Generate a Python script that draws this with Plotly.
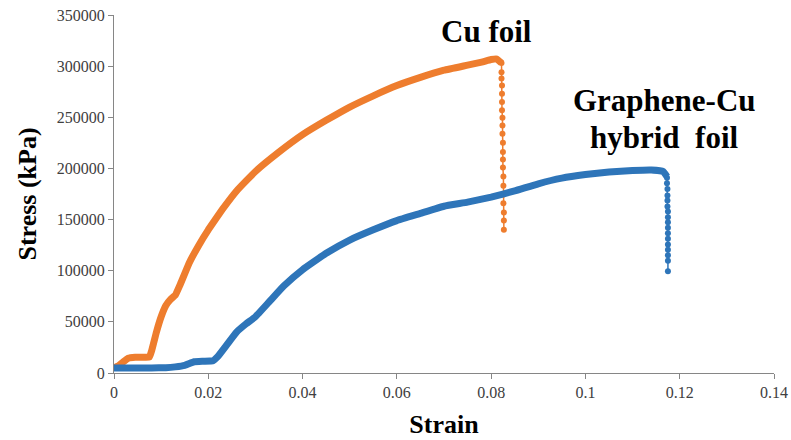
import plotly.graph_objects as go

# Cu foil: main curve (strain, stress kPa)
cu_strain = [0.0, 0.001, 0.002, 0.003, 0.0045, 0.006, 0.0075, 0.008, 0.009, 0.010, 0.011, 0.012, 0.013,
             0.014, 0.016, 0.018, 0.020, 0.023, 0.026, 0.030, 0.035, 0.040, 0.045, 0.050, 0.055,
             0.060, 0.065, 0.070, 0.075, 0.078, 0.080, 0.0812, 0.0822]
cu_stress = [5000, 7000, 11000, 14500, 15500, 15500, 15500, 22000, 40000, 55000, 66000, 72000, 76000,
             86000, 108000, 125000, 140000, 160000, 178000, 197000, 216000, 233000, 247000, 260000, 271000,
             281000, 289000, 296000, 301000, 304000, 306500, 307000, 303000]
# Cu foil: fracture drop points
cu_drop_strain = [0.0822, 0.0822, 0.0822, 0.0823, 0.0823, 0.0823, 0.0823, 0.0824, 0.0824, 0.0824, 0.0825,
                  0.0825, 0.0825, 0.0825, 0.0826, 0.0826, 0.0826, 0.0826, 0.0827, 0.0827, 0.0827]
cu_drop_stress = [303000, 294000, 288000, 281000, 273000, 265000, 257000, 249600, 242000, 234000, 225000,
                  216000, 208700, 200800, 192000, 183000, 174500, 166000, 157000, 149000, 140000]

# Graphene-Cu hybrid foil: main curve
gr_strain = [0.0, 0.004, 0.008, 0.011, 0.013, 0.015, 0.017, 0.019, 0.021, 0.022, 0.024, 0.026, 0.028,
             0.030, 0.033, 0.036, 0.040, 0.045, 0.050, 0.055, 0.060, 0.065, 0.070, 0.075, 0.080,
             0.085, 0.090, 0.095, 0.100, 0.105, 0.110, 0.114, 0.1165, 0.1173]
gr_stress = [5000, 5000, 5000, 5200, 6000, 7500, 11000, 11500, 12000, 16000, 28000, 40000, 48000,
             55000, 70000, 85000, 101000, 117000, 130000, 140000, 149000, 156000, 163000, 167000, 172000,
             178000, 185000, 190500, 194000, 196500, 198000, 198500, 197000, 192000]
# Graphene-Cu hybrid foil: fracture drop points
gr_drop_strain = [0.1173, 0.1173, 0.1174, 0.1174, 0.1174, 0.1174, 0.1175, 0.1175, 0.1175, 0.1175, 0.1175,
                  0.1175, 0.1175, 0.1175, 0.1175, 0.1175, 0.1175]
gr_drop_stress = [190800, 185600, 180000, 173500, 168700, 162800, 157900, 152300, 147400, 142000, 136700,
                  131300, 125700, 120500, 115000, 109800, 99500]

x_ticks = [0, 0.02, 0.04, 0.06, 0.08, 0.1, 0.12, 0.14]
x_tick_labels = ["0", "0.02", "0.04", "0.06", "0.08", "0.1", "0.12", "0.14"]
y_ticks = [0, 50000, 100000, 150000, 200000, 250000, 300000, 350000]
y_tick_labels = [str(v) for v in y_ticks]

ORANGE = "#EE7D2E"
BLUE = "#2E75B9"
SERIF = "Liberation Serif"

fig = go.Figure()
fig.add_trace(go.Scatter(x=cu_strain, y=cu_stress, mode="lines",
                         line=dict(color=ORANGE, width=7, shape="spline", smoothing=0.3),
                         showlegend=False, cliponaxis=False))
fig.add_trace(go.Scatter(x=cu_drop_strain, y=cu_drop_stress, mode="lines+markers",
                         line=dict(color=ORANGE, width=1.5),
                         marker=dict(color=ORANGE, size=6), showlegend=False))
fig.add_trace(go.Scatter(x=gr_strain, y=gr_stress, mode="lines",
                         line=dict(color=BLUE, width=7, shape="spline", smoothing=0.3),
                         showlegend=False, cliponaxis=False))
fig.add_trace(go.Scatter(x=gr_drop_strain, y=gr_drop_stress, mode="lines+markers",
                         line=dict(color=BLUE, width=1.5),
                         marker=dict(color=BLUE, size=6), showlegend=False))

axis_common = dict(showgrid=False, zeroline=False, showline=True, linecolor="#868686", linewidth=1.3,
                   ticks="outside", ticklen=5, tickcolor="#868686", automargin=False,
                   ticklabeloverflow="allow",
                   tickfont=dict(family=SERIF, size=16, color="#404040"))

fig.update_xaxes(range=[0, 0.14], tickvals=x_ticks, ticktext=x_tick_labels,
                 title=dict(text="<b>Strain</b>", font=dict(family=SERIF, size=26, color="black"), standoff=14),
                 **axis_common)
fig.update_yaxes(range=[0, 350000], tickvals=y_ticks, ticktext=y_tick_labels,
                 title=dict(text="<b>Stress (kPa)</b>", font=dict(family=SERIF, size=26, color="black"), standoff=12),
                 **axis_common)

fig.add_annotation(x=0.0791, y=334000, text="<b>Cu foil</b>", showarrow=False, xref="x", yref="y",
                   font=dict(family=SERIF, size=31, color="black"))
fig.add_annotation(x=0.1167, y=266000, text="<b>Graphene-Cu</b>", showarrow=False,
                   xref="x", yref="y", font=dict(family=SERIF, size=31, color="black"))
fig.add_annotation(x=0.1167, y=230000, text="<b>hybrid  foil</b>", showarrow=False,
                   xref="x", yref="y", font=dict(family=SERIF, size=31, color="black"))

fig.update_layout(width=791, height=440, margin=dict(l=114, r=17, t=15, b=67),
                  plot_bgcolor="white", paper_bgcolor="white")

# remove the default page margin so the 791x440 figure fills the window exactly
fig.write_html("out.html", config={"displayModeBar": False},
               post_script="document.body.style.margin='0';document.body.style.overflow='hidden';")
